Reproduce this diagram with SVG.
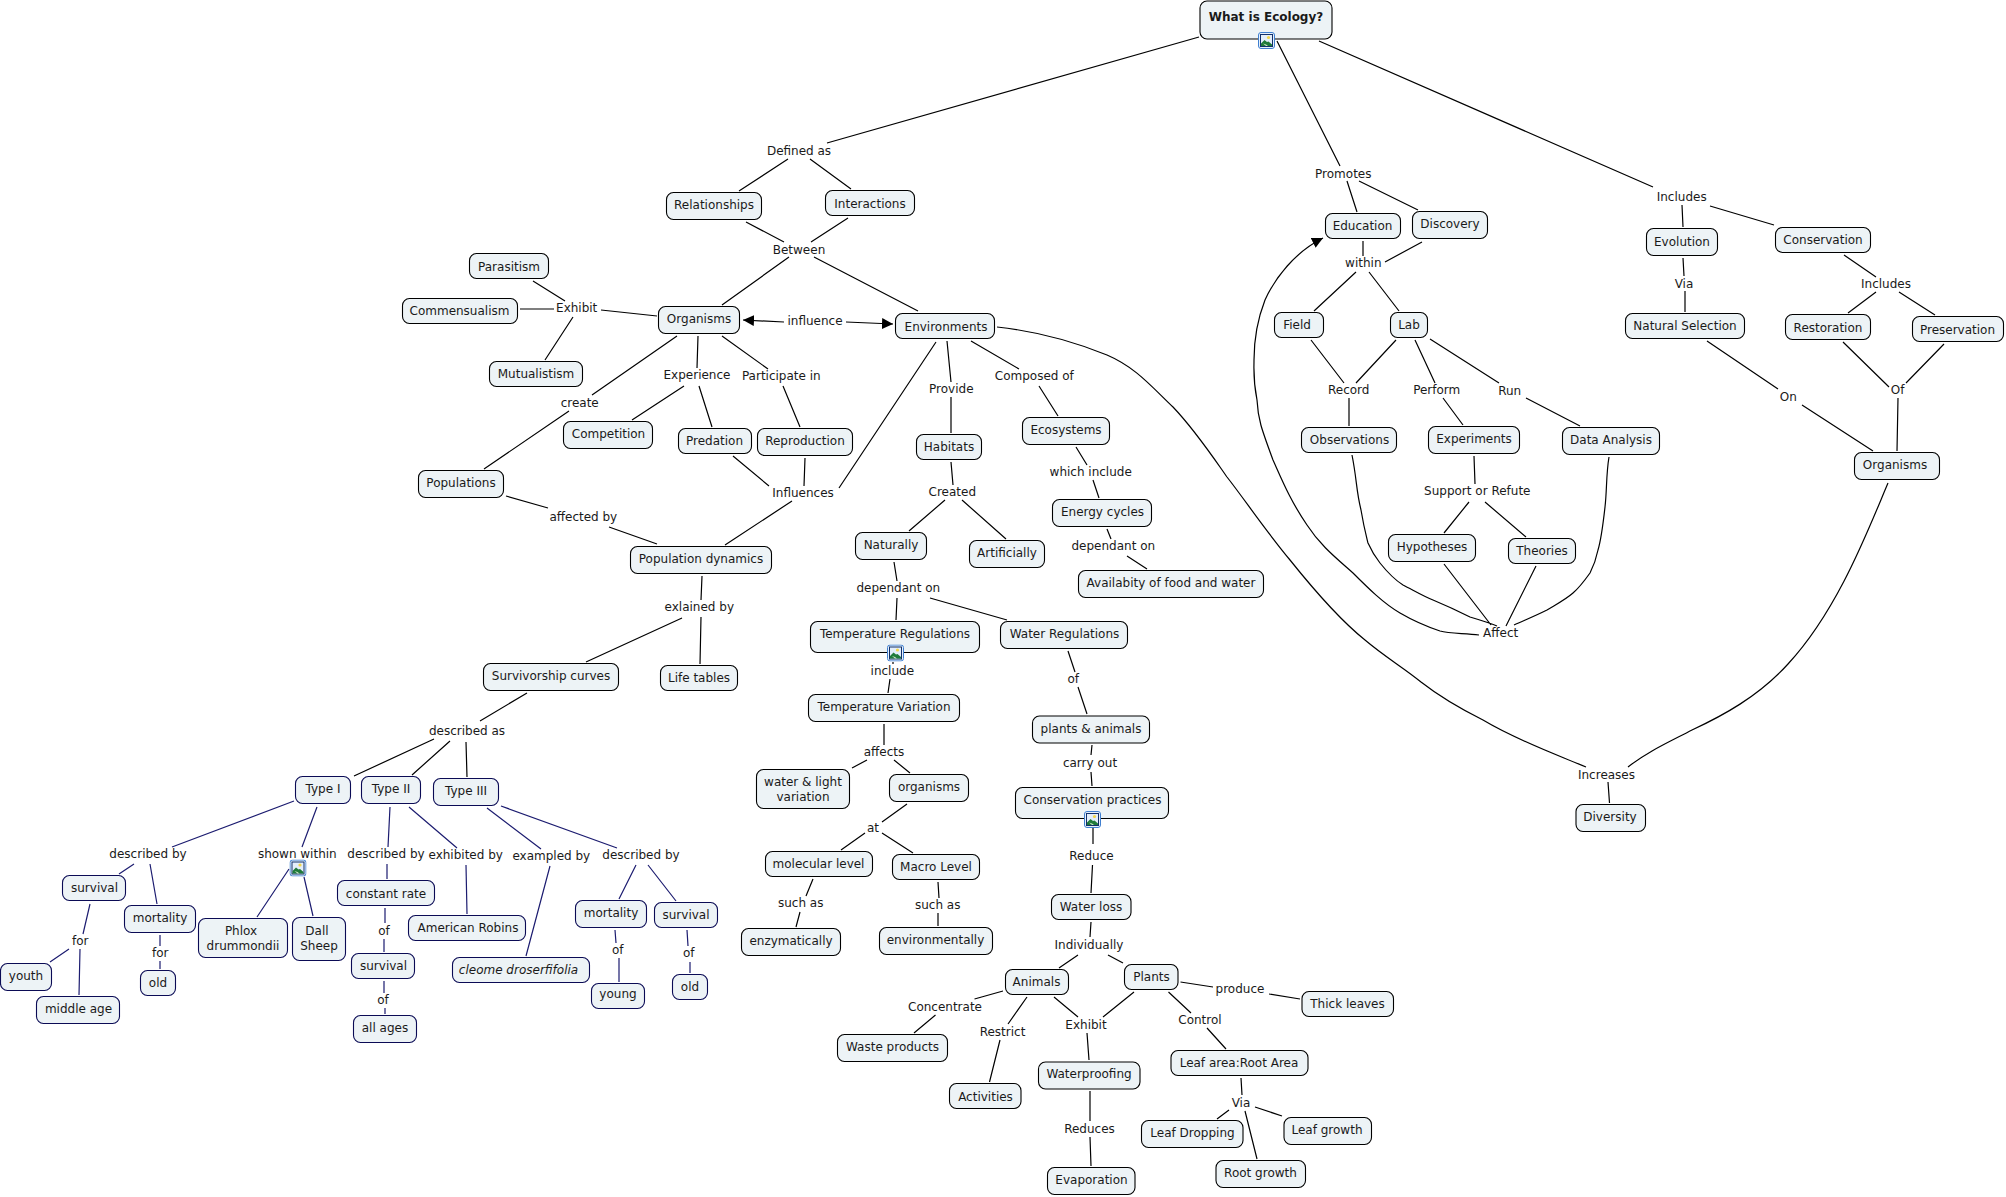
<svg xmlns="http://www.w3.org/2000/svg" width="2006" height="1197" viewBox="0 0 2006 1197">
<style>
text{font-family:"DejaVu Sans",Verdana,sans-serif;font-size:12px;fill:#1a1a1a;text-anchor:middle}
rect.b{fill:#edf3f6;stroke:#000;stroke-width:1.1;rx:7px;ry:7px}
rect.v{fill:#edf3f6;stroke:#0b0b55;stroke-width:1.1;rx:7px;ry:7px}
#connectors path{fill:none;stroke:#000;stroke-width:1.2}
#connectors path.v{stroke:#1c1c70}
</style>
<defs>
<marker id="ah" markerUnits="userSpaceOnUse" markerWidth="11" markerHeight="11" refX="11" refY="5.5" orient="auto"><path d="M0 0L11 5.5L0 11z" fill="#000"/></marker>
<symbol id="ico" viewBox="0 0 17 17"><rect x=".5" y=".5" width="16" height="16" rx="2.5" fill="#e6f0fb" stroke="#3f7fd0"/><rect x="2.5" y="2.500" width="12" height="12" fill="#e3eefa" stroke="#12306a"/><circle cx="10.500" cy="5.500" r="1.600" fill="#f2d64b"/><path d="M3 14V11.500L6.500 8L9 10L10.500 9.500L14 12.500V14z" fill="#1f7a3a"/><path d="M5 11.500L8 12.500L10 14H8z" fill="#cfe8c8"/></symbol>
</defs>
<g id="connectors">
<path d="M1199 37L827 143M1277 41L1340 166M1319 41L1653 187M1347 181L1357 212M1359 181L1418 210M1363 241V256M1422 242L1385 262M1356 272L1314 311M1369 272L1399 311M1682 205L1683 227M1710 206L1774 225M1683 258L1684 276M1685 291L1685 312M1707 341L1778 389M1802 405L1873 451M1844 255L1876 277M1876 292L1848 313M1899 292L1935 315M1843 342L1889 387M1944 344L1906 383M1898 398L1897 451"/>
<path d="M1888 483C1868 530 1838 610 1788 664C1758 697 1722 716 1692 730C1667 743 1647 752 1628 767M1608 782L1609.500 803M997 327C1035 331 1075 342 1107 355C1135 367 1150 385 1173 407C1195 430 1215 460 1227 477C1245 500 1265 530 1290 560C1310 585 1340 620 1365 640C1385 657 1404 668 1421 682C1444 700 1463 710 1483 720C1518 741 1558 755 1586 767"/>
<path marker-end="url(#ah)" d="M1479 635C1465 633 1450 634 1440 631C1425 626 1412 620 1400 613C1383 603 1368 588 1353 573C1335 557 1320 545 1307 525C1290 500 1282 480 1273 460C1262 430 1258 420 1257 400C1253 380 1254 370 1254 360C1254 335 1258 318 1265 300C1275 278 1295 252 1323 238"/>
<path d="M1352 455C1357 480 1356 490 1361 510C1364 528 1366 535 1368 543C1372 552 1376 558 1380 563C1388 573 1395 580 1403 585C1413 590 1423 596 1433 600C1445 605 1458 611 1470 617C1480 620 1490 623 1497 626M1444 564L1491 625M1536 566L1506 626M1609 457C1606 475 1607 490 1605 507C1603 525 1601 540 1598 550C1596 560 1593 567 1590 573C1585 580 1580 587 1573 593C1565 600 1555 605 1547 610C1535 616 1525 620 1514 625"/>
<path d="M1311 340L1344 383M1396 340L1356 383M1349 398V426M1415 340L1435 383M1443 398L1463 425M1430 339L1499 383M1526 398L1580 426M1474 456L1475 484M1469 502L1444 533M1485 502L1526 537"/>
<path d="M788 159L739 191M810 159L851 189M746 222L784 242M848 218L811 242M789 257L722 305M814 257L918 311M533 281L565 301M520 309H554M545 360L573 317M601 310L657 316M677 336L592 395M569 411L484 469M698 336L697 368M722 336L768 369M684 386L632 420M699 386L712 427M783 386L800 427"/>
<path marker-end="url(#ah)" d="M784 322L743 320"/><path marker-end="url(#ah)" d="M846 322L893 324"/>
<path d="M506 496L548 508M609 527L657 544M733 456L769 486M805 458L804 486M839 488L936 342M792 501L725 545M702 576L701 600M682 618L586 662M701 617L700 664M527 693L480 721M434 739L354 776M450 741L412 775M466 742L467 777"/>
<path class="v" d="M294 801L172 847M317 807L302 847M289 869L257 917M304 877L313 916M134 864L119 874M150 864L157 904M90 904L83 934M69 949L50 962M80 949L79 995M160 935V946M160 961V969M390 807L388 847M387 864V879M385 908L385 923M384 939L384 952M384 981V993M385 1008V1014M409 807L457 848M466 865L467 914M487 808L541 849M550 866L526 956M501 806L617 848M636 865L619 899M648 865L676 901M615 930L616 943M619 958V982M687 930L688 946M690 962L690 973"/>
<path d="M947 341L951 382M951 397L951 433M971 341L1019 369M1039 386L1058 416M1076 447L1087 465M1093 480L1099 498M1107 529L1111 539M1127 556L1147 569M951 462L953 485M945 500L909 531M962 500L1006 539M894 562L897 581M897 598L896 620M930 598L1007 620M893 662V664M890 679L888 693M884 724V745M867 760L852 768M894 760L910 773M907 804L882 822M865 833L841 850M882 833L913 853M813 879L806 896M800 912L796 927M938 882L939 898M938 913L938 926"/>
<path d="M1068 651L1075 672M1078 687L1087 714M1092 745L1091 755M1091 772L1092 786M1093 828V844M1092.500 865L1091 893M1091 922L1090 937M1078 955L1059 968M1108 955L1123 963M1180.500 982L1213 987M1269 994L1300 999M1003 991L974.500 999M935.500 1015L914 1033M1027 997L1008 1024M1000 1040L989.500 1082M1054 997L1078 1017M1134 992L1103 1017M1087 1033L1089 1060M1090 1091V1121M1090 1137L1091 1166M1168.500 992L1191 1013M1207 1028L1226 1049M1241 1078L1242 1095M1229 1110L1217 1119M1255 1107L1282 1116M1245 1111L1257 1159"/>
</g>
<g id="What-is-Ecology"><rect class="b" x="1200" y="1" width="132" height="38"/><text x="1266" y="21" style="font-weight:bold">What is Ecology?</text><use href="#ico" x="1258" y="32" width="17" height="17"/></g>
<g id="Education"><rect class="b" x="1325.500" y="213.500" width="75" height="25"/><text x="1362.500" y="230">Education</text></g>
<g id="Discovery"><rect class="b" x="1412.500" y="211.500" width="75" height="27"/><text x="1450" y="227.500">Discovery</text></g>
<g id="Evolution"><rect class="b" x="1646.500" y="228.500" width="71" height="27"/><text x="1682" y="246">Evolution</text></g>
<g id="Conservation"><rect class="b" x="1775.500" y="227.500" width="95" height="25"/><text x="1823" y="244">Conservation</text></g>
<g id="Natural-Selection"><rect class="b" x="1625.500" y="313.500" width="119" height="25"/><text x="1685" y="330">Natural Selection</text></g>
<g id="Restoration"><rect class="b" x="1785.500" y="314.500" width="85" height="25"/><text x="1828" y="331.500">Restoration</text></g>
<g id="Preservation"><rect class="b" x="1912.500" y="316.500" width="91" height="25"/><text x="1957.500" y="333.500">Preservation</text></g>
<g id="Organisms-2"><rect class="b" x="1854.500" y="452.500" width="85" height="27"/><text x="1895" y="469">Organisms</text></g>
<g id="Data-Analysis"><rect class="b" x="1562.500" y="427.500" width="97" height="27"/><text x="1611" y="444">Data Analysis</text></g>
<g id="Diversity"><rect class="b" x="1576" y="804.500" width="69.500" height="27"/><text x="1610" y="821">Diversity</text></g>
<g id="Field"><rect class="b" x="1274.500" y="312.500" width="49" height="25"/><text x="1297" y="329">Field</text></g>
<g id="Lab"><rect class="b" x="1390.500" y="312.500" width="37" height="25"/><text x="1409" y="329">Lab</text></g>
<g id="Observations"><rect class="b" x="1301.500" y="427.500" width="95" height="25"/><text x="1349.500" y="444">Observations</text></g>
<g id="Experiments"><rect class="b" x="1428.500" y="426.500" width="91" height="27"/><text x="1474" y="443">Experiments</text></g>
<g id="Hypotheses"><rect class="b" x="1388.500" y="534.500" width="87" height="27"/><text x="1432" y="551">Hypotheses</text></g>
<g id="Theories"><rect class="b" x="1508.500" y="538.500" width="67" height="25"/><text x="1542" y="555">Theories</text></g>
<g id="Relationships"><rect class="b" x="666.500" y="192.500" width="95" height="27"/><text x="714" y="209">Relationships</text></g>
<g id="Interactions"><rect class="b" x="825.500" y="190.500" width="89" height="25"/><text x="870" y="207.500">Interactions</text></g>
<g id="Organisms"><rect class="b" x="658.500" y="306.500" width="81" height="27"/><text x="699" y="323">Organisms</text></g>
<g id="Parasitism"><rect class="b" x="469.500" y="253.500" width="79" height="25"/><text x="509" y="270.500">Parasitism</text></g>
<g id="Commensualism"><rect class="b" x="402.500" y="298.500" width="115" height="25"/><text x="459.500" y="315">Commensualism</text></g>
<g id="Mutualistism"><rect class="b" x="489.500" y="361.500" width="93" height="25"/><text x="536" y="378">Mutualistism</text></g>
<g id="Competition"><rect class="b" x="563.500" y="421.500" width="89" height="27"/><text x="608.500" y="438">Competition</text></g>
<g id="Predation"><rect class="b" x="678.500" y="428.500" width="73" height="25"/><text x="714.500" y="445">Predation</text></g>
<g id="Reproduction"><rect class="b" x="757.500" y="428.500" width="95" height="27"/><text x="805" y="445">Reproduction</text></g>
<g id="Populations"><rect class="b" x="418.500" y="470.500" width="85" height="27"/><text x="461" y="487">Populations</text></g>
<g id="Population-dynamics"><rect class="b" x="630.500" y="546.500" width="141" height="27"/><text x="701" y="563">Population dynamics</text></g>
<g id="Survivorship-curves"><rect class="b" x="483.500" y="663.500" width="135" height="27"/><text x="551" y="680">Survivorship curves</text></g>
<g id="Life-tables"><rect class="b" x="660.500" y="665.500" width="77" height="25"/><text x="699" y="682">Life tables</text></g>
<g id="Type-I"><rect class="v" x="295.500" y="776.500" width="55" height="27"/><text x="323" y="793">Type I</text></g>
<g id="Type-II"><rect class="v" x="361.500" y="776.500" width="59" height="27"/><text x="391" y="793">Type II</text></g>
<g id="Type-III"><rect class="v" x="433.500" y="778.500" width="65" height="27"/><text x="466" y="794.500">Type III</text></g>
<g id="Phlox"><rect class="v" x="198.500" y="918.500" width="89" height="39"/><text x="241" y="935">Phlox</text><text x="243" y="949.500">drummondii</text></g>
<g id="Dall-Sheep"><rect class="v" x="292.500" y="917.500" width="53" height="43"/><text x="317" y="935">Dall</text><text x="319" y="949.500">Sheep</text></g>
<g id="survival-1"><rect class="v" x="62.500" y="875.500" width="63" height="25"/><text x="94.500" y="892">survival</text></g>
<g id="mortality-1"><rect class="v" x="124.500" y="905.500" width="71" height="27"/><text x="160" y="922">mortality</text></g>
<g id="youth"><rect class="v" x=".5" y="963.500" width="51" height="27"/><text x="26" y="980">youth</text></g>
<g id="middle-age"><rect class="v" x="36.500" y="996.500" width="83" height="27"/><text x="78.500" y="1013">middle age</text></g>
<g id="old-1"><rect class="v" x="140.500" y="970.500" width="35" height="25"/><text x="158" y="987">old</text></g>
<g id="constant-rate"><rect class="v" x="337.500" y="880.500" width="97" height="25"/><text x="386" y="897.500">constant rate</text></g>
<g id="survival-2"><rect class="v" x="351.500" y="953.500" width="63" height="25"/><text x="383.500" y="970">survival</text></g>
<g id="all-ages"><rect class="v" x="353.500" y="1015.500" width="63" height="27"/><text x="385" y="1032">all ages</text></g>
<g id="American-Robins"><rect class="v" x="408.500" y="915.500" width="117" height="25"/><text x="468" y="932">American Robins</text></g>
<g id="cleome"><rect class="v" x="452.500" y="957.500" width="137" height="25"/><text x="518.500" y="974" style="font-style:italic">cleome droserfifolia</text></g>
<g id="mortality-2"><rect class="v" x="575.500" y="900.500" width="71" height="27"/><text x="611" y="917">mortality</text></g>
<g id="survival-3"><rect class="v" x="654.500" y="902.500" width="63" height="25"/><text x="686" y="919">survival</text></g>
<g id="young"><rect class="v" x="591.500" y="983.500" width="53" height="25"/><text x="618" y="998">young</text></g>
<g id="old-2"><rect class="v" x="672.500" y="974.500" width="35" height="25"/><text x="690" y="991">old</text></g>
<g id="Environments"><rect class="b" x="895.500" y="313.500" width="99" height="25"/><text x="946" y="330.500">Environments</text></g>
<g id="Habitats"><rect class="b" x="916.500" y="434.500" width="65" height="25"/><text x="949" y="451">Habitats</text></g>
<g id="Ecosystems"><rect class="b" x="1022.500" y="417.500" width="87" height="27"/><text x="1066" y="433.500">Ecosystems</text></g>
<g id="Energy-cycles"><rect class="b" x="1052.500" y="499.500" width="99" height="27"/><text x="1102.500" y="516">Energy cycles</text></g>
<g id="Availabity"><rect class="b" x="1078.500" y="570.500" width="185" height="27"/><text x="1171" y="587">Availabity of food and water</text></g>
<g id="Artificially"><rect class="b" x="969.500" y="540.500" width="75" height="27"/><text x="1007" y="557">Artificially</text></g>
<g id="Naturally"><rect class="b" x="855.500" y="532.500" width="71" height="27"/><text x="891" y="549">Naturally</text></g>
<g id="Temperature-Regulations"><rect class="b" x="810.500" y="621.500" width="169" height="31"/><text x="895" y="638">Temperature Regulations</text><use href="#ico" x="887" y="644.500" width="17" height="17"/></g>
<g id="Water-Regulations"><rect class="b" x="1000.500" y="621.500" width="127" height="27"/><text x="1064.500" y="638">Water Regulations</text></g>
<g id="Temperature-Variation"><rect class="b" x="808.500" y="694.500" width="151" height="27"/><text x="884" y="711">Temperature Variation</text></g>
<g id="water-light"><rect class="b" x="756.500" y="769.500" width="93" height="39"/><text x="803" y="786">water &amp; light</text><text x="803" y="800.500">variation</text></g>
<g id="organisms-3"><rect class="b" x="889.500" y="774.500" width="79" height="27"/><text x="929" y="791">organisms</text></g>
<g id="molecular-level"><rect class="b" x="765.500" y="851.500" width="107" height="25"/><text x="818.500" y="868">molecular level</text></g>
<g id="Macro-Level"><rect class="b" x="892.500" y="854.500" width="87" height="25"/><text x="936" y="871">Macro Level</text></g>
<g id="enzymatically"><rect class="b" x="741.500" y="928.500" width="99" height="27"/><text x="791" y="945">enzymatically</text></g>
<g id="environmentally"><rect class="b" x="879.500" y="927.500" width="113" height="27"/><text x="935.500" y="944">environmentally</text></g>
<g id="plants-animals"><rect class="b" x="1032.500" y="716" width="117" height="27"/><text x="1091" y="732.500">plants &amp; animals</text></g>
<g id="Conservation-practices"><rect class="b" x="1015.500" y="787.500" width="153" height="31"/><text x="1092.500" y="804">Conservation practices</text><use href="#ico" x="1084" y="811" width="17" height="17"/></g>
<g id="Water-loss"><rect class="b" x="1051.500" y="894.500" width="79.500" height="25"/><text x="1091" y="911">Water loss</text></g>
<g id="Animals"><rect class="b" x="1005.500" y="969.500" width="63" height="25"/><text x="1036.500" y="986">Animals</text></g>
<g id="Plants"><rect class="b" x="1124.500" y="964.500" width="53.500" height="25"/><text x="1151.500" y="981">Plants</text></g>
<g id="Thick-leaves"><rect class="b" x="1302" y="991.500" width="91.500" height="25"/><text x="1347.500" y="1008">Thick leaves</text></g>
<g id="Waste-products"><rect class="b" x="837.500" y="1034.500" width="110" height="27"/><text x="892.500" y="1051">Waste products</text></g>
<g id="Activities"><rect class="b" x="949.500" y="1083.500" width="71.500" height="25"/><text x="985.500" y="1101">Activities</text></g>
<g id="Waterproofing"><rect class="b" x="1038.500" y="1062" width="101.500" height="27"/><text x="1089" y="1078">Waterproofing</text></g>
<g id="Evaporation"><rect class="b" x="1047.500" y="1167.500" width="87.500" height="27"/><text x="1091.500" y="1184">Evaporation</text></g>
<g id="Leaf-area"><rect class="b" x="1171" y="1050.500" width="137" height="25"/><text x="1239" y="1067">Leaf area:Root Area</text></g>
<g id="Leaf-Dropping"><rect class="b" x="1141.500" y="1120.500" width="101.500" height="27"/><text x="1192.500" y="1137">Leaf Dropping</text></g>
<g id="Leaf-growth"><rect class="b" x="1284" y="1117.500" width="87.500" height="27"/><text x="1327" y="1134">Leaf growth</text></g>
<g id="Root-growth"><rect class="b" x="1216" y="1160.500" width="89.500" height="27"/><text x="1260.500" y="1177">Root growth</text></g>
<g id="labels">
<text x="799" y="155">Defined as</text><text x="1343.300" y="177.500">Promotes</text><text x="1681.700" y="201">Includes</text><text x="1363.300" y="267">within</text><text x="1684" y="288">Via</text><text x="1886" y="288">Includes</text><text x="1788.300" y="401">On</text><text x="1897.700" y="394.300">Of</text><text x="1606.500" y="779">Increases</text><text x="1500.700" y="637">Affect</text><text x="1348.700" y="394.300">Record</text><text x="1436.700" y="394.300">Perform</text><text x="1509.700" y="395">Run</text><text x="1477.300" y="495.300">Support or Refute</text>
<text x="799" y="253.500">Between</text><text x="576.700" y="312">Exhibit</text><text x="815" y="325">influence</text><text x="579.700" y="406.500">create</text><text x="697" y="379">Experience</text><text x="781.300" y="380">Participate in</text><text x="583.300" y="521.300">affected by</text><text x="803" y="497">Influences</text><text x="699.300" y="611.300">exlained by</text><text x="467" y="734.800">described as</text>
<text x="148" y="858">described by</text><text x="297.300" y="858">shown within</text><text x="80.300" y="945">for</text><text x="160.300" y="957">for</text><text x="386" y="858">described by</text><text x="384" y="935.300">of</text><text x="383" y="1004">of</text><text x="465.700" y="859.300">exhibited by</text><text x="551.300" y="860.300">exampled by</text><text x="641" y="859.300">described by</text><text x="617.700" y="954.300">of</text><text x="688.700" y="957.300">of</text>
<text x="951.300" y="393">Provide</text><text x="1034.300" y="380.300">Composed of</text><text x="1090.700" y="476">which include</text><text x="1113.300" y="550.300">dependant on</text><text x="952.300" y="496">Created</text><text x="898.300" y="592.300">dependant on</text><text x="892.300" y="675.300">include</text><text x="884" y="756.300">affects</text><text x="873" y="831.500">at</text><text x="800.700" y="907.300">such as</text><text x="937.700" y="909.300">such as</text><text x="1073.300" y="683.300">of</text><text x="1090" y="766.500">carry out</text><text x="1091.500" y="860.300">Reduce</text>
<text x="1089" y="949.300">Individually</text><text x="1240" y="993.300">produce</text><text x="945" y="1011">Concentrate</text><text x="1002.500" y="1036">Restrict</text><text x="1086" y="1029">Exhibit</text><text x="1089.500" y="1133.300">Reduces</text><text x="1200" y="1024.300">Control</text><text x="1241" y="1107">Via</text>
</g>
<use id="icon-shown-within" href="#ico" x="289.500" y="859.500" width="17" height="17"/>
</svg>
